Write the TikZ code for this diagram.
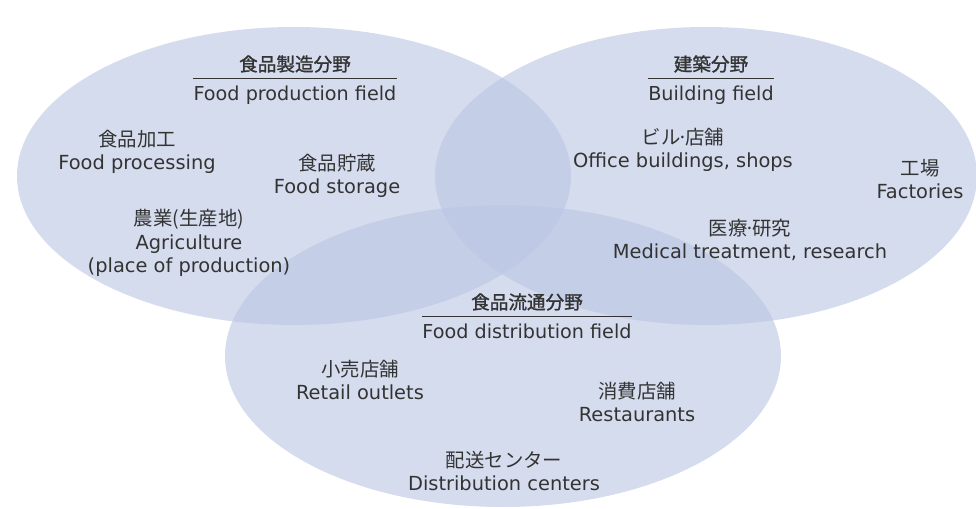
\documentclass[tikz,border=0pt]{standalone}
\usepackage{fontspec}
\setmainfont{DejaVu Sans}
\newfontfamily\jpfont{Noto Sans CJK JP}
\newfontfamily\jphead[FakeBold=1.3]{Noto Sans CJK JP}
\usepackage{tikz}
\usetikzlibrary{positioning}

\definecolor{fieldblue}{RGB}{185,197,227}
\definecolor{inkgray}{RGB}{51,51,51}
\newcommand{\jpdot}{\kern-1.6pt·\kern-1.6pt}

\begin{document}
\begin{tikzpicture}[
  x=0.5pt,y=-0.5pt,
  region/.style={fill=fieldblue, fill opacity=0.6, draw=none},
  item/.style={align=center, inner sep=0pt, text=inkgray,
    font=\fontsize{9.7}{11.8}\selectfont},
  enhead/.style={inner xsep=0pt, inner ysep=3.5pt, text=inkgray,
    font=\fontsize{9.6}{11.8}\selectfont},
  jphead/.style={inner sep=0pt, text=inkgray,
    font=\jphead\fontsize{9.3}{11.8}\selectfont},
  headrule/.style={draw=inkgray, line width=0.5pt},
]
\useasboundingbox (0,0) rectangle (976,509);

% Fields
\fill[region] (294,176) ellipse [x radius=138.5pt, y radius=74.5pt];
\fill[region] (706,176) ellipse [x radius=135.5pt, y radius=74.5pt];
\fill[region] (503,356) ellipse [x radius=139pt, y radius=75.5pt];

% Headings
\node[enhead, anchor=base] (prodEn) at (295,100) {Food production field};
\node[jphead, above=2.5pt of prodEn] (prodJp) {食品製造分野};
\draw[headrule] (prodEn.north west) -- (prodEn.north east);

\node[enhead, anchor=base] (buildEn) at (711,100) {Building field};
\node[jphead, above=2.5pt of buildEn] (buildJp) {建築分野};
\draw[headrule] (buildEn.north west) -- (buildEn.north east);

\node[enhead, anchor=base] (distEn) at (527,338) {Food distribution field};
\node[jphead, above=2.5pt of distEn] (distJp) {食品流通分野};
\draw[headrule] (distEn.north west) -- (distEn.north east);

% Food production items
\node[item] (processing) at (137,152) {{\jpfont 食品加工}\\Food processing};
\node[item] (storage) at (337,176) {{\jpfont 食品貯蔵}\\Food storage};
\node[item] (agri) at (189,243) {{\jpfont 農業(生産地)}\\Agriculture\\(place of production)};

% Building items
\node[item] (office) at (683,150) {{\jpfont ビル\jpdot 店舗}\\Office buildings, shops};
\node[item] (factory) at (920,179) {{\jpfont 工場}\\Factories};
\node[item] (medical) at (750,240) {{\jpfont 医療\jpdot 研究}\\Medical treatment, research};

% Food distribution items
\node[item] (retail) at (360,380) {{\jpfont 小売店舗}\\Retail outlets};
\node[item] (restaurant) at (637,402) {{\jpfont 消費店舗}\\Restaurants};
\node[item] (center) at (504,471) {{\jpfont 配送センター}\\Distribution centers};

\end{tikzpicture}
\end{document}
